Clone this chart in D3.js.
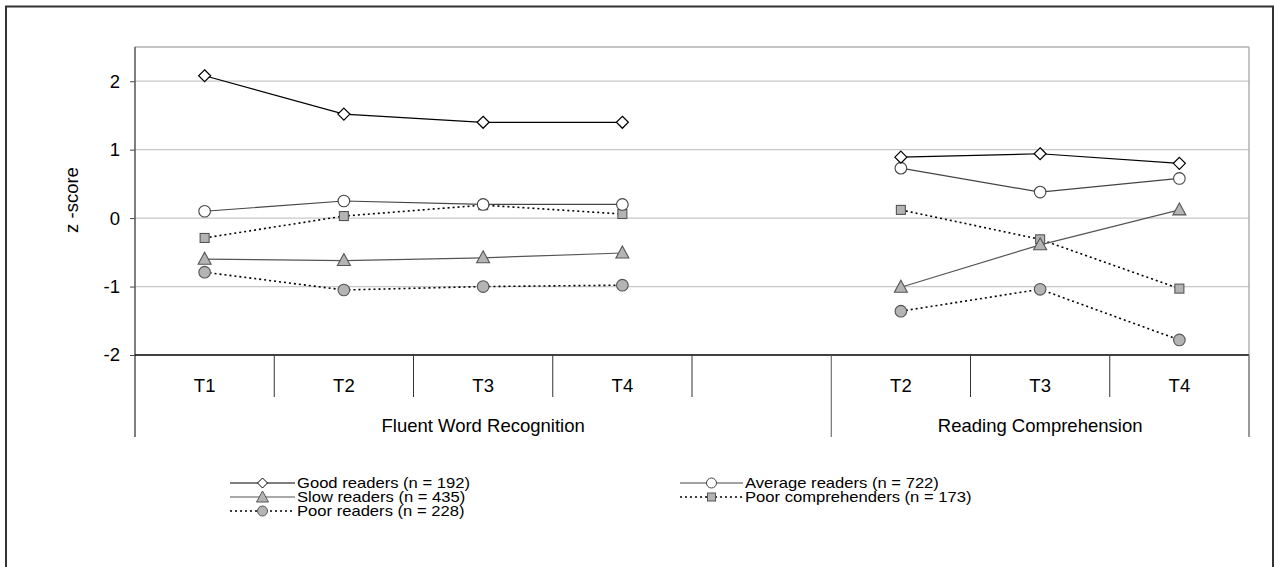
<!DOCTYPE html>
<html><head><meta charset="utf-8">
<script src="https://cdn.jsdelivr.net/npm/d3@7"></script>
<style>body{margin:0;background:#fff}svg{display:block;font-family:"Liberation Sans",Arial,sans-serif}</style>
</head><body><svg id="c" width="1274" height="567"></svg>
<script>
// ---- data ----
const tickLabels = ["T1","T2","T3","T4","","T2","T3","T4"];
const groups = [
  {name:"Fluent Word Recognition", start:0, end:5},
  {name:"Reading Comprehension", start:5, end:8}
];
const yTicks = [-2,-1,0,1,2];
const seriesNames = ["Good readers (n = 192)","Average readers (n = 722)","Slow readers (n = 435)","Poor comprehenders (n = 173)","Poor readers (n = 228)"];
const goodReaders        = [2.08, 1.52, 1.40, 1.40, null, 0.89, 0.94, 0.80];
const averageReaders     = [0.10, 0.25, 0.20, 0.20, null, 0.73, 0.38, 0.58];
const slowReaders        = [-0.60,-0.62,-0.58,-0.51, null,-1.01,-0.39, 0.12];
const poorComprehenders  = [-0.29, 0.03, 0.19, 0.06, null, 0.12,-0.31,-1.03];
const poorReaders        = [-0.79,-1.05,-1.00,-0.98, null,-1.36,-1.04,-1.78];

const styles = [
  {vals:goodReaders, stroke:"#000", dash:null, w:1.2, sym:"diamond", fill:"#fff", ms:"#000"},
  {vals:averageReaders, stroke:"#444", dash:null, w:1.2, sym:"circle", fill:"#fff", ms:"#444"},
  {vals:slowReaders, stroke:"#555", dash:null, w:1.2, sym:"triangle", fill:"#b4b4b4", ms:"#555"},
  {vals:poorComprehenders, stroke:"#000", dash:"2,3", w:1.6, sym:"square", fill:"#b4b4b4", ms:"#555"},
  {vals:poorReaders, stroke:"#000", dash:"2,3", w:1.6, sym:"circle2", fill:"#b4b4b4", ms:"#555"}
];

const FS = 18.5, LFS = 16.6, LFS_DRAW = 14.5;
const svg = d3.select("#c");
const L=135, R=1249, T=47, B=355;
const x = d3.scaleBand().domain(d3.range(tickLabels.length)).range([L,R]).paddingInner(0).paddingOuter(0);
const y = d3.scaleLinear().domain([-2,2.5]).range([B,T]);

// outer border
svg.append("rect").attr("x",6).attr("y",6.5).attr("width",1267).attr("height",600)
  .attr("fill","none").attr("stroke","#333").attr("stroke-width",2);

// gridlines
svg.append("g").selectAll("line").data(yTicks.filter(d=>d>-2)).join("line")
  .attr("x1",L).attr("x2",R).attr("y1",d=>y(d)).attr("y2",d=>y(d))
  .attr("stroke","#c8c8c8").attr("stroke-width",1.2);
// plot frame top/right
svg.append("line").attr("x1",L).attr("x2",R).attr("y1",T).attr("y2",T).attr("stroke","#b0b0b0").attr("stroke-width",1.5);
svg.append("line").attr("x1",R).attr("x2",R).attr("y1",T).attr("y2",B).attr("stroke","#b0b0b0").attr("stroke-width",1.5);

// y axis
const yAxis = d3.axisLeft(y).tickValues(yTicks).tickSize(5).tickPadding(10).tickFormat(d=>String(d));
const ga = svg.append("g").attr("transform",`translate(${L},0)`).call(yAxis);
ga.select(".domain").remove();
ga.selectAll("line").attr("stroke","#444");
ga.selectAll("text").attr("font-size",FS).attr("fill","#000").attr("font-family","Liberation Sans, Arial, sans-serif");
svg.append("line").attr("x1",L).attr("x2",L).attr("y1",T).attr("y2",437).attr("stroke","#555").attr("stroke-width",1.5);

// x axis
svg.append("line").attr("x1",L).attr("x2",R).attr("y1",B).attr("y2",B).attr("stroke","#000").attr("stroke-width",1.3);
const bw = x.bandwidth();
const seps = d3.range(1, tickLabels.length);
svg.append("g").selectAll("line").data(seps).join("line")
  .attr("x1",i=>x(i)).attr("x2",i=>x(i)).attr("y1",B)
  .attr("y2",i=>groups.some(g=>g.start===i)?437:397)
  .attr("stroke",i=>groups.some(g=>g.start===i)?"#555":"#333").attr("stroke-width",1);
svg.append("line").attr("x1",R).attr("x2",R).attr("y1",B).attr("y2",437).attr("stroke","#777").attr("stroke-width",1.5);
svg.append("g").selectAll("text").data(tickLabels).join("text")
  .attr("x",(d,i)=>x(i)+bw/2).attr("y",392).attr("text-anchor","middle")
  .attr("font-size",FS).text(d=>d);
svg.append("g").selectAll("text").data(groups).join("text")
  .attr("x",g=>(x(g.start)+(g.end<tickLabels.length?x(g.end):R))/2).attr("y",431.5)
  .attr("text-anchor","middle").attr("font-size",FS).text(g=>g.name);

// y title
svg.append("text").attr("transform","translate(78,200) rotate(-90)").attr("text-anchor","middle")
  .attr("font-size",FS).attr("fill","#000").text("z -score");

// markers
function drawMarker(g, sym, cx, cy, fill, ms){
  if(sym==="diamond"){
    g.append("path").attr("d",`M${cx},${cy-6}L${cx+6},${cy}L${cx},${cy+6}L${cx-6},${cy}Z`).attr("fill",fill).attr("stroke",ms).attr("stroke-width",1.2);
  } else if(sym==="circle"||sym==="circle2"){
    g.append("circle").attr("cx",cx).attr("cy",cy).attr("r",5.8).attr("fill",fill).attr("stroke",ms).attr("stroke-width",1.1);
  } else if(sym==="triangle"){
    g.append("path").attr("d",`M${cx},${cy-7}L${cx+6.5},${cy+5}L${cx-6.5},${cy+5}Z`).attr("fill",fill).attr("stroke",ms).attr("stroke-width",1.1);
  } else if(sym==="square"){
    g.append("rect").attr("x",cx-4.5).attr("y",cy-4.5).attr("width",9).attr("height",9).attr("fill",fill).attr("stroke",ms).attr("stroke-width",1.1);
  }
}

const line = d3.line().defined(d=>d.v!=null).x(d=>x(d.i)+bw/2).y(d=>y(d.v));
const order = [4,3,2,1,0];
order.forEach(k=>{
  const s = styles[k];
  const pts = s.vals.map((v,i)=>({v,i}));
  svg.append("path").attr("d",line(pts)).attr("fill","none").attr("stroke",s.stroke)
    .attr("stroke-width",s.w).attr("stroke-dasharray",s.dash);
});
order.forEach(k=>{
  const s = styles[k];
  const g = svg.append("g");
  s.vals.forEach((v,i)=>{ if(v!=null) drawMarker(g, s.sym, x(i)+bw/2, y(v), s.fill, s.ms); });
});

// legend
const legendPos = [
  {k:0, lx:230, len:65, ly:483},
  {k:2, lx:230, len:65, ly:497},
  {k:4, lx:230, len:65, ly:511},
  {k:1, lx:680, len:63, ly:483},
  {k:3, lx:680, len:63, ly:497}
];
legendPos.forEach(p=>{
  const s = styles[p.k];
  const g = svg.append("g");
  const mx = p.lx + p.len/2;
  g.append("line").attr("x1",p.lx).attr("x2",p.lx+p.len).attr("y1",p.ly).attr("y2",p.ly)
    .attr("stroke",s.stroke).attr("stroke-width",s.w).attr("stroke-dasharray",s.dash);
  const msym = s.sym;
  if(msym==="diamond") g.append("path").attr("d",`M${mx},${p.ly-5}L${mx+5},${p.ly}L${mx},${p.ly+5}L${mx-5},${p.ly}Z`).attr("fill",s.fill).attr("stroke",s.ms);
  else if(msym==="triangle") g.append("path").attr("d",`M${mx},${p.ly-6}L${mx+6},${p.ly+5}L${mx-6},${p.ly+5}Z`).attr("fill",s.fill).attr("stroke",s.ms);
  else if(msym==="square") g.append("rect").attr("x",mx-4).attr("y",p.ly-4).attr("width",8).attr("height",8).attr("fill",s.fill).attr("stroke",s.ms);
  else g.append("circle").attr("cx",mx).attr("cy",p.ly).attr("r",5).attr("fill",s.fill).attr("stroke",s.ms);
  const t = g.append("text").attr("x",p.lx+p.len+2).attr("y",p.ly+5).attr("font-size",LFS).text(seriesNames[p.k]);
  const w = t.node().getComputedTextLength();
  t.attr("font-size",LFS_DRAW).attr("textLength",w).attr("lengthAdjust","spacingAndGlyphs");
});
</script></body></html>
